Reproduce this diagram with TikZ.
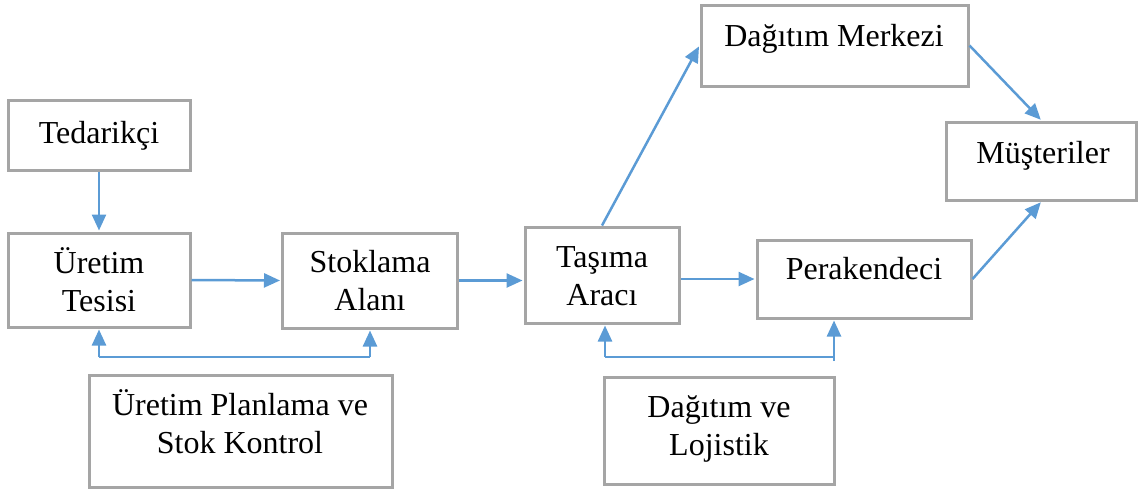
\documentclass[tikz,border=0pt]{standalone}
\usepackage{fontspec}
\setmainfont{Liberation Serif}
\usetikzlibrary{arrows.meta}
\definecolor{boxgray}{HTML}{A5A5A5}
\definecolor{arrblue}{HTML}{5B9BD5}
\tikzset{
  box/.style={draw=boxgray, line width=3pt, rectangle, inner sep=0pt},
  txt/.style={anchor=base, inner sep=0pt, font=\fontsize{32}{38}\selectfont},
  arr/.style={draw=arrblue, line width=2.5pt, -{Triangle[length=16pt,width=14pt]}, shorten >=1pt},
  fbline/.style={draw=arrblue, line width=2pt}
}
\newcommand{\twol}[2]{\begin{tabular}[t]{@{}c@{}}#1\\#2\end{tabular}}
\begin{document}
\begin{tikzpicture}[x=1pt,y=-1pt]
\useasboundingbox (0,0) rectangle (1139,496);
% boxes
\node[box, minimum width=182, minimum height=70] (ted) at (99,135) {};
\node[box, minimum width=182, minimum height=94] (ure) at (99,280) {};
\node[box, minimum width=175, minimum height=95] (sto) at (370,280.5) {};
\node[box, minimum width=154, minimum height=96] (tas) at (602,275) {};
\node[box, minimum width=214, minimum height=78] (per) at (864,279) {};
\node[box, minimum width=267, minimum height=81] (dm) at (834.5,45.5) {};
\node[box, minimum width=190, minimum height=78] (mus) at (1041.5,161) {};
\node[box, minimum width=303, minimum height=112] (upl) at (240.5,431) {};
\node[box, minimum width=230, minimum height=107] (dl) at (719,430.5) {};
% texts
\node[txt] (tted) at (99,143) {Tedarikçi};
\node[txt] (ture) at (99,273) {\twol{Üretim}{Tesisi}};
\node[txt] (tsto) at (370,272) {\twol{Stoklama}{Alanı}};
\node[txt] (ttas) at (602,267) {\twol{Taşıma}{Aracı}};
\node[txt] (tper) at (864,279) {Perakendeci};
\node[txt] (tdm) at (834,46) {Dağıtım Merkezi};
\node[txt] (tmus) at (1043,163) {Müşteriler};
\node[txt] (tupl) at (240,415) {\twol{Üretim Planlama ve}{Stok Kontrol}};
\node[txt] (tdl) at (719,417) {\twol{Dağıtım ve}{Lojistik}};
% main flow
\draw[arr] (ted) -- (ure);
\draw[arr] (ure.east) -- (sto.west);
\draw[arr] (sto.east) -- (sto.east -| tas.west);
\draw[arr] (per.west -| tas.east) -- (per.west);
\draw[arr] (tas.north) -- (dm.west);
\draw[arr] (dm.east) -- (mus.north);
\draw[arr] (per.east) -- (mus.south);
% feedback left
\coordinate (fa) at (99,357);
\coordinate (fb) at (370,357);
\draw[fbline] (fa) -- (fb);
\draw[arr] (fa) -- (ure.south);
\draw[arr] (fb) -- (sto.south);
% feedback right
\coordinate (fc) at (605,357);
\coordinate (fd) at (834,357);
\coordinate (fe) at (834,361);
\draw[fbline] (fc) -- (fd);
\draw[arr] (fc) -- (tas.south -| fc);
\draw[arr] (fe) -- (per.south -| fe);
\end{tikzpicture}
\end{document}
